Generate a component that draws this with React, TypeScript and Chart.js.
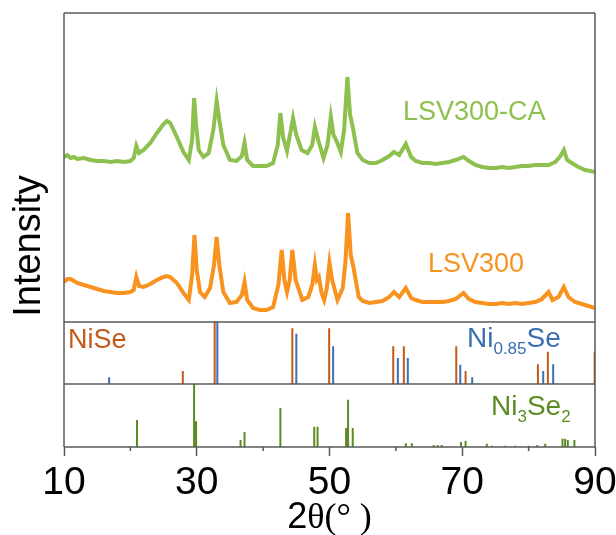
import React, { useEffect, useRef } from 'react';
import { Chart, registerables } from 'chart.js';

Chart.register(...registerables);

// ---- Data (2θ in degrees, intensity in arbitrary units) ----
const lsv300CA: [number, number][] = [
  [10, 165], [10.5, 167], [11, 164], [11.5, 165], [12, 163], [13, 164], [14, 162], [15, 161], [16, 161],
  [17, 160], [18, 161], [19, 160], [20, 161], [20.5, 164], [20.9, 176], [21.3, 169], [22, 172], [23, 179],
  [24, 189], [25, 198], [25.5, 201], [26, 199], [27, 185], [28, 170], [28.8, 162], [29.3, 182], [29.6, 224],
  [29.9, 197], [30.3, 172], [31, 165], [31.8, 169], [32.5, 192], [33, 221], [33.4, 202], [34, 177], [35, 162],
  [36, 161], [36.8, 166], [37.2, 179], [37.6, 162], [38.5, 156], [39.5, 156], [40.5, 156], [41.5, 159],
  [42.2, 177], [42.6, 209], [43, 185], [43.6, 171], [44.5, 204], [45, 187], [45.8, 172], [46.7, 169],
  [47.4, 177], [47.8, 195], [48.3, 182], [49.1, 164], [49.7, 177], [50.2, 205], [50.6, 187], [51, 182],
  [51.7, 170], [52.2, 192], [52.7, 245], [53.1, 207], [53.5, 195], [54.2, 169], [55, 162], [56, 159],
  [57, 159], [58, 162], [59, 166], [59.7, 170], [60.5, 167], [61.5, 178], [62.3, 165], [63, 161], [64, 159],
  [65, 159], [66, 158], [67, 159], [68, 160], [69, 162], [70.2, 165], [71, 161], [72, 157], [73, 155],
  [74, 154], [75, 154], [76, 155], [77, 154], [78, 155], [79, 156], [80, 156], [81, 157], [82, 157],
  [83, 157], [84, 160], [84.8, 166], [85.3, 172], [85.8, 162], [86.5, 159], [87.5, 155], [88.5, 152],
  [89.3, 151], [90, 150],
];

const lsv300: [number, number][] = [
  [10, 40], [10.5, 43], [11, 43], [12, 39], [13, 37], [14, 35], [15, 33], [16, 31], [17, 30], [18, 29],
  [19, 29], [20, 30], [20.5, 32], [20.9, 45], [21.3, 36], [22, 35], [23, 38], [24, 42], [25, 45], [25.5, 46],
  [26, 45], [27, 39], [28, 29], [28.8, 22], [29.3, 47], [29.65, 87], [30, 52], [30.5, 30], [31.2, 25],
  [32, 34], [32.6, 57], [33, 85], [33.4, 57], [34, 30], [35, 19], [36, 20], [36.8, 27], [37.2, 40],
  [37.6, 22], [38.5, 14], [39.5, 12], [40.5, 12], [41.5, 15], [42.3, 37], [42.8, 72], [43.2, 42],
  [43.6, 30], [44, 42], [44.4, 72], [44.9, 42], [45.9, 22], [46.8, 25], [47.4, 37], [47.8, 57], [48.1, 42],
  [48.4, 45], [48.8, 29], [49.2, 22], [49.6, 34], [50, 59], [50.4, 42], [51.2, 22], [52, 34], [52.4, 60],
  [52.8, 109], [53.2, 67], [53.6, 55], [54.4, 25], [55, 21], [56, 19], [57, 20], [58, 21], [59, 25],
  [59.7, 30], [60.5, 25], [61.5, 34], [62.3, 24], [63, 22], [64, 20], [65, 20], [66, 20], [67, 20],
  [68, 21], [69, 23], [70.2, 29], [71, 23], [72, 20], [73, 19], [74, 18], [75, 18], [76, 19], [77, 18],
  [78, 19], [79, 18], [80, 19], [81, 20], [82, 23], [83, 30], [83.6, 22], [84.5, 25], [85.3, 35], [86, 25],
  [87, 20], [88, 18], [89, 16], [90, 14],
];

// Reference stick patterns (2θ, relative intensity %)
const niSeTheta = [27.9, 32.7, 44.4, 49.95, 59.6, 61.2, 69.1, 70.5, 81.4, 82.9, 89.95];
const niSeRel = [21, 100, 90, 90, 61, 61, 61, 21, 32, 52, 52];

const ni085SeTheta = [16.8, 33.1, 45.0, 50.55, 60.3, 61.8, 69.7, 71.5, 82.2, 83.7];
const ni085SeRel = [11, 100, 81, 61, 42, 42, 31, 11, 21, 32];

const ni3Se2Theta = [21.0, 29.6, 29.9, 36.6, 37.2, 42.6, 47.7, 48.2, 52.5, 52.8, 53.5, 61.5, 62.4, 65.7,
  66.3, 66.9, 69.8, 70.5, 73.7, 74.5, 76.5, 78.0, 80.0, 81.3, 82.5, 85.1, 85.5, 85.9, 86.9];
const ni3Se2Rel = [43, 100, 41, 11, 24, 62, 32, 32, 30, 75, 30, 6, 6, 3, 3, 3, 8, 10, 5, 2, 2, 2, 2, 3, 5,
  13, 13, 11, 11];

const xMajorLabels = [10, 30, 50, 70, 90];
const xMinorTicks = [20, 40, 60, 80];

// ---- Styles ----
const SANS = '"Liberation Sans", Arial, sans-serif';
const SERIF = '"Liberation Serif", "Times New Roman", serif';
const FRAME = '#595959';
const GREEN = '#8DC04F';
const ORANGE = '#F7931E';
const BROWN = '#C45A1A';
const BLUE = '#3A70B0';
const DKGREEN = '#5B8C23';

const toXY = (arr: [number, number][]) => arr.map(([x, y]) => ({ x, y }));
const sticks = (theta: number[], rel: number[]) =>
  theta.flatMap((t, i) => [{ x: t, y: 0 }, { x: t, y: rel[i] }, { x: t, y: null as any }]);

const decorPlugin = {
  id: 'decor',
  afterDraw(chart: any) {
    const { ctx, chartArea, scales } = chart;
    const { left, right } = chartArea;
    const yT = scales.yTop, yM = scales.yMid, yB = scales.yBot, x = scales.x;
    ctx.save();
    // frames
    ctx.strokeStyle = FRAME;
    ctx.lineWidth = 1.5;
    ctx.beginPath();
    [yT.top, yM.top, yB.top, yB.bottom].forEach((yy: number) => {
      ctx.moveTo(left, yy);
      ctx.lineTo(right, yy);
    });
    ctx.moveTo(left, yT.top);
    ctx.lineTo(left, yB.bottom);
    ctx.moveTo(right, yT.top);
    ctx.lineTo(right, yB.bottom);
    // minor ticks
    xMinorTicks.forEach((v) => {
      const px = x.getPixelForValue(v);
      ctx.moveTo(px, yB.bottom);
      ctx.lineTo(px, yB.bottom + 4);
    });
    ctx.stroke();

    const txt = (s: string, px: number, py: number, font: string, color: string) => {
      ctx.font = font;
      ctx.fillStyle = color;
      ctx.textAlign = 'left';
      ctx.textBaseline = 'alphabetic';
      ctx.fillText(s, px, py);
      return px + ctx.measureText(s).width;
    };

    // curve labels
    txt('LSV300-CA', 403, 119.5, `27px ${SANS}`, GREEN);
    txt('LSV300', 428, 271.5, `27px ${SANS}`, ORANGE);
    // phase labels
    txt('NiSe', 68, 348, `27px ${SANS}`, BROWN);
    let cx = txt('Ni', 467, 347, `28px ${SANS}`, BLUE);
    cx = txt('0.85', cx, 354, `17px ${SANS}`, BLUE);
    txt('Se', cx, 347, `28px ${SANS}`, BLUE);
    cx = txt('Ni', 491, 415, `28px ${SANS}`, DKGREEN);
    cx = txt('3', cx, 422, `17px ${SANS}`, DKGREEN);
    cx = txt('Se', cx, 415, `28px ${SANS}`, DKGREEN);
    txt('2', cx, 422, `17px ${SANS}`, DKGREEN);

    // y title
    ctx.save();
    ctx.translate(40, 246);
    ctx.rotate(-Math.PI / 2);
    ctx.font = `38px ${SANS}`;
    ctx.fillStyle = '#000';
    ctx.textAlign = 'center';
    ctx.textBaseline = 'alphabetic';
    ctx.fillText('Intensity', 0, 0);
    ctx.restore();

    // x title: 2θ(° )
    ctx.font = `36px ${SANS}`;
    const w2 = ctx.measureText('2').width;
    ctx.font = `36px ${SERIF}`;
    const wRest = ctx.measureText('θ(° )').width;
    const startX = (left + right) / 2 - (w2 + wRest) / 2;
    const tx = txt('2', startX, 528, `36px ${SANS}`, '#000');
    txt('θ(° )', tx, 528, `36px ${SERIF}`, '#000');
    ctx.restore();
  },
};

const hiddenY = {
  type: 'linear', position: 'left', stack: 'xrd',
  ticks: { display: false },
  grid: { display: false, drawTicks: false },
  border: { display: false },
  afterFit: (s: any) => { s.width = 0; },
};

export default function App() {
  const ref = useRef<HTMLCanvasElement | null>(null);
  useEffect(() => {
    if (!ref.current) return;
    const chart = new Chart(ref.current, {
      type: 'line',
      data: {
        datasets: [
          { label: 'LSV300-CA', data: toXY(lsv300CA), yAxisID: 'yTop', borderColor: GREEN, borderWidth: 4 },
          { label: 'LSV300', data: toXY(lsv300), yAxisID: 'yTop', borderColor: ORANGE, borderWidth: 4 },
          { label: 'NiSe', data: sticks(niSeTheta, niSeRel), yAxisID: 'yMid', borderColor: BROWN, borderWidth: 2 },
          { label: 'Ni0.85Se', data: sticks(ni085SeTheta, ni085SeRel), yAxisID: 'yMid', borderColor: BLUE, borderWidth: 2 },
          { label: 'Ni3Se2', data: sticks(ni3Se2Theta, ni3Se2Rel), yAxisID: 'yBot', borderColor: DKGREEN, borderWidth: 2 },
        ] as any,
      },
      options: {
        animation: false,
        responsive: false,
        spanGaps: false,
        elements: { point: { radius: 0 }, line: { tension: 0 } },
        layout: { padding: { left: 64, right: 21, top: 13, bottom: 0 } },
        plugins: { legend: { display: false }, tooltip: { enabled: false } },
        scales: {
          x: {
            type: 'linear',
            min: 10,
            max: 90,
            afterFit: (s: any) => { s.height = 88; s.paddingLeft = 0; s.paddingRight = 0; },
            afterBuildTicks: (s: any) => {
              s.ticks = [...xMajorLabels, ...xMinorTicks].sort((a, b) => a - b).map((v) => ({ value: v }));
            },
            ticks: {
              autoSkip: false,
              maxRotation: 0,
              padding: 4,
              color: '#000',
              font: { family: SANS, size: 39 },
              callback: (v: any) => (xMajorLabels.includes(Number(v)) ? String(v) : ''),
            },
            grid: {
              drawOnChartArea: false,
              drawTicks: true,
              tickLength: 9,
              tickWidth: 1.5,
              tickColor: (c: any) => (xMajorLabels.includes(c.tick?.value) ? FRAME : 'rgba(0,0,0,0)'),
            },
            border: { display: false },
          },
          yTop: { ...hiddenY, stackWeight: 309, weight: 3, min: 0, max: 309 },
          yMid: { ...hiddenY, stackWeight: 62, weight: 2, min: 0, max: 100 },
          yBot: { ...hiddenY, stackWeight: 63, weight: 1, min: 0, max: 100 },
        } as any,
      },
      plugins: [decorPlugin],
    });
    return () => chart.destroy();
  }, []);
  return (
    <div style={{ position: 'absolute', left: 0, top: 0, width: 616, height: 535, background: '#fff' }}>
      <canvas ref={ref} width={616} height={535} />
    </div>
  );
}
